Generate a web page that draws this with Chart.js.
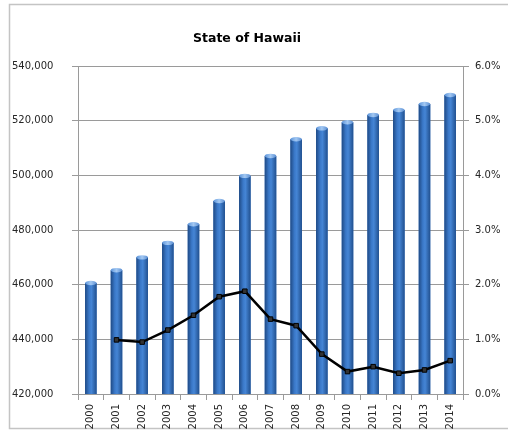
<!DOCTYPE html>
<html><head><meta charset="utf-8">
<script src="https://cdn.jsdelivr.net/npm/chart.js@4"></script>
<style>html,body{margin:0;padding:0;background:#fff}</style>
</head><body>
<canvas id="c" width="508" height="433"></canvas>
<script>
const years = ['2000','2001','2002','2003','2004','2005','2006','2007','2008','2009','2010','2011','2012','2013','2014'];
const totals = [460600, 465300, 470000, 475300, 482100, 490600, 499800, 507100, 513200, 517200, 519400, 522100, 523900, 526100, 529400];
const growthPct = [null, 0.99, 0.95, 1.17, 1.44, 1.78, 1.88, 1.37, 1.25, 0.73, 0.41, 0.50, 0.38, 0.44, 0.61];
const leftMin = 420000, leftMax = 540000, leftStep = 20000;
const rightMin = 0, rightMax = 6, rightStep = 1;
const titleText = 'State of Hawaii';

const tickFont = { family: 'DejaVu Sans', size: 10 };
const textColor = '#262626';
const gridColor = '#9a9a9a';

const framePlugin = {
  id: 'frame',
  beforeDraw(chart) {
    const c = chart.ctx;
    c.save();
    c.fillStyle = '#fff';
    c.fillRect(0, 0, chart.width, chart.height);
    c.strokeStyle = '#c4c4c4';
    c.lineWidth = 1.5;
    c.strokeRect(9.5, 4.5, chart.width + 10, 424);
    c.restore();
  },
  afterLayout(chart) {
    if (chart.titleBlock) chart.titleBlock.right = chart.titleBlock.right - 26;
  }
};

const cylinderPlugin = {
  id: 'cylinder',
  afterDatasetDraw(chart, args) {
    if (args.index !== 0) return;
    const ctx = chart.ctx;
    const area = chart.chartArea;
    args.meta.data.forEach(bar => {
      const p = bar.getProps(['x', 'y', 'base', 'width'], true);
      const l = p.x - p.width / 2;
      const bottom = Math.min(p.base, area.bottom);
      const g = ctx.createLinearGradient(l, 0, l + p.width, 0);
      g.addColorStop(0, '#1f4a85');
      g.addColorStop(0.35, '#3a78c8');
      g.addColorStop(0.55, '#4585d5');
      g.addColorStop(1, '#21508f');
      ctx.save();
      ctx.fillStyle = g;
      ctx.fillRect(l, p.y, p.width, bottom - p.y);
      ctx.beginPath();
      ctx.ellipse(p.x, p.y, p.width / 2, 2.2, 0, 0, Math.PI * 2);
      const g2 = ctx.createLinearGradient(l, 0, l + p.width, 0);
      g2.addColorStop(0, '#5a93da');
      g2.addColorStop(0.5, '#a3c8f2');
      g2.addColorStop(1, '#5a8ed3');
      ctx.fillStyle = g2;
      ctx.fill();
      ctx.restore();
    });
  }
};

new Chart(document.getElementById('c'), {
  data: {
    labels: years,
    datasets: [
      {
        type: 'bar',
        data: totals,
        yAxisID: 'y',
        order: 2,
        backgroundColor: '#3a78c8',
        barPercentage: 0.9,
        categoryPercentage: 0.5
      },
      {
        type: 'line',
        data: growthPct,
        yAxisID: 'y1',
        order: 1,
        borderColor: '#000',
        borderWidth: 2.5,
        tension: 0,
        pointStyle: 'rect',
        pointRadius: 3.2,
        pointBackgroundColor: '#333',
        pointBorderColor: '#000',
        pointBorderWidth: 1
      }
    ]
  },
  options: {
    responsive: false,
    animation: false,
    devicePixelRatio: 1,
    layout: { padding: { left: 12, right: 0, top: 0, bottom: 0 } },
    plugins: {
      legend: { display: false },
      tooltip: { enabled: false },
      title: {
        display: true,
        text: titleText,
        color: '#000',
        font: { family: 'DejaVu Sans', size: 12.5, weight: 'bold' },
        padding: { top: 31, bottom: 20 }
      }
    },
    scales: {
      x: {
        grid: { display: true, drawOnChartArea: false, drawTicks: true, tickLength: 6, color: gridColor, offset: true },
        border: { color: gridColor },
        ticks: { maxRotation: 90, minRotation: 90, padding: 4, autoSkip: false, font: tickFont, color: textColor },
        afterFit(s) { s.height = 39; }
      },
      y: {
        position: 'left',
        min: leftMin, max: leftMax,
        ticks: { stepSize: leftStep, crossAlign: 'far', padding: 6, font: tickFont, color: textColor,
          callback: v => v.toLocaleString('en-US') },
        grid: { color: gridColor, tickLength: 6 },
        border: { color: gridColor },
        afterFit(s) { s.width = 66; }
      },
      y1: {
        position: 'right',
        min: rightMin, max: rightMax,
        ticks: { stepSize: rightStep, padding: 6, font: tickFont, color: textColor,
          callback: v => v.toFixed(1) + '%' },
        grid: { drawOnChartArea: false, tickLength: 6, color: gridColor },
        border: { color: gridColor },
        afterFit(s) { s.width = 45; }
      }
    }
  },
  plugins: [framePlugin, cylinderPlugin]
});
</script>
</body></html>
